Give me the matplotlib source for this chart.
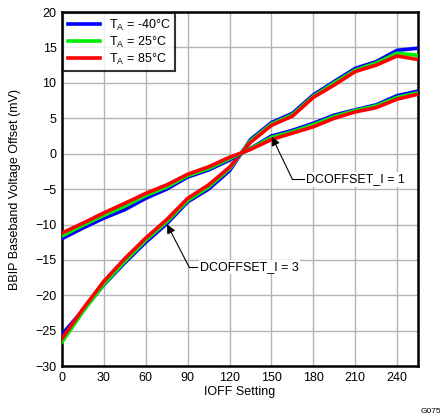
import numpy as np
import matplotlib.pyplot as plt

plt.rcParams['font.family'] = ['Liberation Sans', 'DejaVu Sans']

ioff = [0, 15, 30, 45, 60, 75, 90, 105, 120, 135, 150, 165, 180, 195, 210, 225, 240, 255]

# DCOFFSET_I = 3 (steep)
i3_m40 = [-25.5, -22.1, -18.5, -15.4, -12.5, -9.9, -6.8, -5.0, -2.4, 2.0, 4.4, 5.7, 8.3, 10.2, 12.05, 13.0, 14.6, 14.9]
i3_25  = [-26.6, -22.3, -18.4, -15.2, -12.2, -9.6, -6.6, -4.7, -2.1, 1.8, 4.2, 5.5, 8.1, 10.0, 11.8, 12.8, 14.2, 13.9]
i3_85  = [-26.1, -21.9, -18.0, -14.8, -11.9, -9.3, -6.3, -4.4, -1.9, 1.6, 4.0, 5.3, 7.95, 9.7, 11.6, 12.5, 13.8, 13.3]

# DCOFFSET_I = 1 (shallow)
i1_m40 = [-12.0, -10.5, -9.1, -7.9, -6.3, -5.0, -3.3, -2.3, -0.9, 0.75, 2.5, 3.3, 4.3, 5.45, 6.2, 6.9, 8.2, 8.85]
i1_25  = [-11.6, -10.1, -8.7, -7.4, -5.9, -4.7, -3.1, -2.1, -0.7, 0.7, 2.3, 3.1, 4.1, 5.25, 6.1, 6.75, 7.95, 8.6]
i1_85  = [-11.2, -9.8, -8.35, -7.0, -5.6, -4.4, -2.9, -1.85, -0.5, 0.6, 2.0, 2.9, 3.8, 5.0, 5.9, 6.5, 7.7, 8.4]

xticks = [0, 30, 60, 90, 120, 150, 180, 210, 240]
yticks = [-30, -25, -20, -15, -10, -5, 0, 5, 10, 15, 20]

fig = plt.figure(figsize=(4.4, 4.17), dpi=100)
ax = fig.add_axes([0.141, 0.122, 0.809, 0.849])

colors = {"m40": "#0000ff", "25": "#00ee00", "85": "#ff0000"}
lw = 2.6
ax.plot(ioff, i3_m40, color=colors["m40"], lw=lw, label="T$_\\mathregular{A}$ = -40°C", zorder=3)
ax.plot(ioff, i3_25, color=colors["25"], lw=lw, label="T$_\\mathregular{A}$ = 25°C", zorder=3)
ax.plot(ioff, i3_85, color=colors["85"], lw=lw, label="T$_\\mathregular{A}$ = 85°C", zorder=3)
ax.plot(ioff, i1_m40, color=colors["m40"], lw=lw, zorder=3)
ax.plot(ioff, i1_25, color=colors["25"], lw=lw, zorder=3)
ax.plot(ioff, i1_85, color=colors["85"], lw=lw, zorder=3)

ax.set_xlim(0, 255)
ax.set_ylim(-30, 20)
ax.set_xticks(xticks)
ax.set_yticks(yticks)
ax.tick_params(length=0, labelsize=9, pad=4)
ax.grid(True, color="#b4b4b4", lw=1.0, zorder=0)
ax.set_axisbelow(True)
for s in ax.spines.values():
    s.set_linewidth(1.8)

ax.set_xlabel("IOFF Setting", fontsize=9, labelpad=2)
ax.set_ylabel("BBIP Baseband Voltage Offset (mV)", fontsize=9, labelpad=10)

leg = ax.legend(loc="upper left", fontsize=9, frameon=True, fancybox=False,
                borderaxespad=0.1, handlelength=2.6, labelspacing=0.15,
                borderpad=0.35, handletextpad=0.7)
leg.get_frame().set_edgecolor("black")
leg.get_frame().set_linewidth(1.5)

# annotations with bent leader lines
ax.annotate("", xy=(150.3, 2.4), xytext=(165, -3.6),
            arrowprops=dict(arrowstyle="-|>", color="black", lw=0.8,
                            mutation_scale=13, shrinkA=0, shrinkB=0), zorder=4)
ax.plot([165, 173], [-3.6, -3.6], color="black", lw=0.8, zorder=4)
ax.text(175, -3.6, "DCOFFSET_I = 1", fontsize=9, va="center", ha="left",
        bbox=dict(facecolor="white", edgecolor="none", pad=1), zorder=4)

ax.annotate("", xy=(75.3, -10.0), xytext=(91, -16.0),
            arrowprops=dict(arrowstyle="-|>", color="black", lw=0.8,
                            mutation_scale=13, shrinkA=0, shrinkB=0), zorder=4)
ax.plot([91, 97], [-16.0, -16.0], color="black", lw=0.8, zorder=4)
ax.text(99, -16.0, "DCOFFSET_I = 3", fontsize=9, va="center", ha="left",
        bbox=dict(facecolor="white", edgecolor="none", pad=1), zorder=4)

fig.text(0.955, 0.005, "G075", fontsize=6, ha="left", va="bottom")

fig.savefig("out.png", dpi=100)
